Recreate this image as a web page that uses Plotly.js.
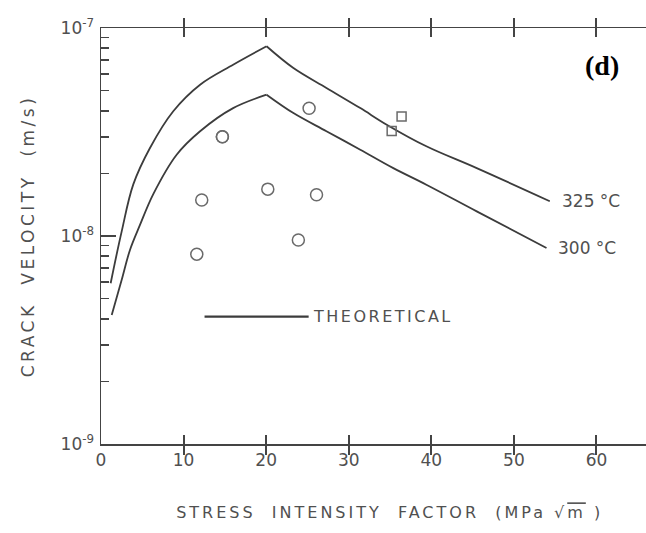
<!DOCTYPE html>
<html>
<head>
<meta charset="utf-8">
<script src="https://cdn.plot.ly/plotly-3.0.1.min.js"></script>
<style>html,body{margin:0;padding:0;background:#fff;}</style>
</head>
<body>
<div id="chart" style="width:646px;height:533px;"></div>
<script>
// Theoretical curves: stress intensity factor K (MPa√m) vs crack velocity (m/s)
const k325 = [1.17, 2.5, 3.91, 5.93, 8.75, 12.0, 16.0, 20.05, 23.3, 27.3, 31.4, 34.6, 39.4, 45.5, 54.35];
const v325 = [5.93e-9, 1.05e-8, 1.77e-8, 2.65e-8, 3.98e-8, 5.34e-8, 6.66e-8, 8.17e-8, 6.42e-8, 5.15e-8, 4.12e-8, 3.43e-8, 2.70e-8, 2.12e-8, 1.47e-8];
const k300 = [1.3, 2.5, 3.51, 4.72, 6.33, 9.16, 12.0, 16.0, 20.05, 23.3, 27.3, 31.4, 35.4, 39.4, 45.5, 53.95];
const v300 = [4.17e-9, 6.14e-9, 8.57e-9, 1.13e-8, 1.59e-8, 2.46e-8, 3.19e-8, 4.12e-8, 4.78e-8, 3.90e-8, 3.19e-8, 2.60e-8, 2.12e-8, 1.765e-8, 1.314e-8, 8.76e-9];
// Experimental points
const kCircle = [14.7, 12.2, 20.2, 26.1, 23.9, 11.6, 25.2];
const vCircle = [3.0e-8, 1.49e-8, 1.68e-8, 1.58e-8, 9.57e-9, 8.18e-9, 4.11e-8];
const kSquare = [35.2, 36.4];
const vSquare = [3.2e-8, 3.75e-8];
// Labels
const curveLabels = ['325 °C', '300 °C'];
const xTicks = [0, 10, 20, 30, 40, 50, 60];
const yTicks = [1e-9, 1e-8, 1e-7];
const yTickText = ['10<sup>-9</sup>', '10<sup>-8</sup>', '10<sup>-7</sup>'];
const legendText = 'THEORETICAL';
const panelLabel = '(d)';

const FONT = 'DejaVu Sans, Liberation Sans, sans-serif';
const INK = '#3c3c3c';
const TXT = '#505050';
const AX = '#444';
const Y_RANGE = [-9, -7];

function splitAtPeak(ks, vs) {
  let p = 0;
  vs.forEach((v, i) => { if (v > vs[p]) p = i; });
  return [[ks.slice(0, p + 1), vs.slice(0, p + 1)], [ks.slice(p), vs.slice(p)]];
}

const traces = [];
[[k325, v325, '325 °C'], [k300, v300, '300 °C']].forEach(([ks, vs, nm]) => {
  splitAtPeak(ks, vs).forEach(([x, y]) => {
    traces.push({x: x, y: y, type: 'scatter', mode: 'lines', name: nm,
      line: {color: INK, width: 1.8, shape: 'spline', smoothing: 1},
      showlegend: false, hoverinfo: 'x+y'});
  });
});
traces.push({x: kCircle, y: vCircle, type: 'scatter', mode: 'markers', name: 'circles',
  marker: {symbol: 'circle-open', size: 12, color: '#6a6a6a', line: {width: 1.5}}, showlegend: false});
traces.push({x: kSquare, y: vSquare, type: 'scatter', mode: 'markers', name: 'squares',
  marker: {symbol: 'square-open', size: 9, color: '#6a6a6a', line: {width: 1.5}}, showlegend: false});

// minor log ticks drawn with the library: an overlaid log axis carrying them
traces.push({x: [kCircle[0]], y: [vCircle[0]], type: 'scatter', mode: 'markers', yaxis: 'y2',
  marker: {size: 12, symbol: 'circle-open', color: '#6a6a6a', line: {width: 1.5}}, showlegend: false, hoverinfo: 'skip'});
const minorVals = [];
[1e-9, 1e-8].forEach(d => { for (let m = 2; m <= 9; m++) minorVals.push(m * d); });

const ls = 'letter-spacing:3.5px';
const layout = {
  width: 646, height: 533,
  margin: {l: 101, r: 0, t: 28, b: 89},
  paper_bgcolor: '#fff', plot_bgcolor: '#fff',
  showlegend: false,
  font: {family: FONT, color: TXT},
  xaxis: {
    range: [0, 66], showgrid: false, zeroline: false,
    showline: true, linecolor: AX, linewidth: 1.5, mirror: 'allticks',
    ticks: 'inside', ticklen: 9, tickwidth: 2, tickcolor: AX,
    tickmode: 'array', tickvals: xTicks, ticktext: xTicks.map(String),
    tickfont: {family: FONT, size: 17, color: TXT},
    title: {text: '<span style="letter-spacing:3px">\u00a0\u00a0\u00a0\u00a0STRESS\u00a0 INTENSITY\u00a0 FACTOR\u00a0 (MPa √<span style="text-decoration:overline">m</span>\u00a0)</span>',
      font: {family: FONT, size: 16, color: TXT}, standoff: 38}
  },
  yaxis: {
    type: 'log', range: Y_RANGE, showgrid: false, zeroline: false,
    showline: true, linecolor: AX, linewidth: 1.5,
    ticks: 'inside', ticklen: 15, tickwidth: 2, tickcolor: AX,
    tickmode: 'array', tickvals: yTicks, ticktext: yTickText,
    tickfont: {family: FONT, size: 17, color: TXT},
    ticklabelstandoff: 2,
    title: {text: '<span style="' + ls + '">CRACK\u00a0 VELOCITY\u00a0 (m/s)</span>',
      font: {family: FONT, size: 17, color: TXT}, standoff: 21}
  },
  yaxis2: {
    type: 'log', range: Y_RANGE, overlaying: 'y', side: 'left', anchor: 'x',
    showgrid: false, zeroline: false, showline: false,
    ticks: 'inside', ticklen: 8, tickwidth: 1.6, tickcolor: AX,
    tickmode: 'array', tickvals: minorVals, showticklabels: false
  },
  shapes: [
    {type: 'line', xref: 'paper', yref: 'paper', x0: 0.19, x1: 0.381, y0: 0.306, y1: 0.306,
      line: {color: INK, width: 2.2}}
  ],
  annotations: [
    {xref: 'paper', yref: 'paper', x: 0.386, y: 0.306, xanchor: 'left', yanchor: 'middle', showarrow: false,
      text: '<span style="letter-spacing:2.5px">' + legendText + '</span>', font: {family: FONT, size: 16, color: TXT}},
    {xref: 'paper', yref: 'paper', x: 0.919, y: 0.911, xanchor: 'center', yanchor: 'middle', showarrow: false,
      text: '<b>' + panelLabel + '</b>', font: {family: 'Liberation Serif, Times New Roman, serif', size: 28, color: '#000'}},
    {x: k325[k325.length - 1] + 1.2, y: Math.log10(v325[v325.length - 1]), xanchor: 'left', yanchor: 'middle', showarrow: false,
      text: curveLabels[0], font: {family: FONT, size: 17, color: TXT}},
    {x: k300[k300.length - 1] + 1.2, y: Math.log10(v300[v300.length - 1]), xanchor: 'left', yanchor: 'middle', showarrow: false,
      text: curveLabels[1], font: {family: FONT, size: 17, color: TXT}}
  ]
};

Plotly.newPlot('chart', traces, layout, {displayModeBar: false, staticPlot: true});
</script>
</body>
</html>
